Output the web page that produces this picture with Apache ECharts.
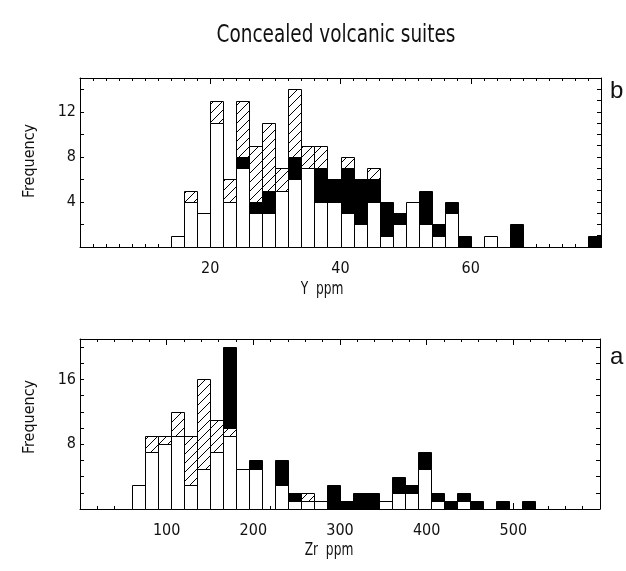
<!DOCTYPE html>
<html>
<head>
<meta charset="utf-8">
<script src="https://cdn.jsdelivr.net/npm/echarts@6/dist/echarts.min.js"></script>
<style>
  html, body { margin: 0; padding: 0; background: #fff; }
  #chart { width: 626px; height: 571px; }
</style>
</head>
<body>
<div id="chart"></div>
<script>
// ---- Y (ppm): counts per 2 ppm bin, bins start at 0, 2, 4, ... 78 ----
const yBinWidth = 2;
const yOpen  = [0,0,0,0,0,0,0, 1,4,3,11,4,7,3,3,5,6,7,4,4,3,2,4,1,2,4,2,1,3,0,0,1, 0,0,0,0,0,0,0,0];
const yBlack = [0,0,0,0,0,0,0,0,0,0,0,0, 1,1,2,0,2,0,3,2,4,4,2,3,1,0,3,1,1,1,0,0,0,2, 0,0,0,0,0, 1];
const yHatch = [0,0,0,0,0,0,0,0, 1,0,2,2,5,5,6,2,6,2,2,0,1,0,1, 0,0,0,0,0,0,0,0,0,0,0,0,0,0,0,0,0];

// ---- Zr (ppm): counts per 15 ppm bin, bins start at 0, 15, 30, ... 585 ----
const zrBinWidth = 15;
const zrOpen  = [0,0,0,0, 3,7,8,9,3,5,7,9,5,5,0,3,1,1,1,0,0,0,0,1,2,2,5,1,0,1, 0,0,0,0,0,0,0,0,0,0];
const zrHatch = [0,0,0,0,0, 2,1,3,6,11,4,1, 0,0,0,0,0, 1, 0,0,0,0,0,0,0,0,0,0,0,0,0,0,0,0,0,0,0,0,0,0];
const zrBlack = [0,0,0,0,0,0,0,0,0,0,0, 10,0,1,0,3,1,0,0,3,1,2,2,0,2,1,2,1,1,1,1,0,1,0,1, 0,0,0,0,0];

// ---- tick labels ----
const yPpmTicks = [20, 40, 60];
const yFreqTicks = [4, 8, 12];
const zrPpmTicks = [100, 200, 300, 400, 500];
const zrFreqTicks = [8, 16];

const FONT = "'DejaVu Sans Condensed', 'Liberation Sans Narrow', sans-serif";
const INK = '#111';

// diagonal hatch tile
function makeHatch() {
  const s = 9;
  const c = document.createElement('canvas');
  c.width = s; c.height = s;
  const g = c.getContext('2d');
  g.fillStyle = '#fff';
  g.fillRect(0, 0, s, s);
  g.strokeStyle = '#000';
  g.lineWidth = 1;
  g.beginPath();
  g.moveTo(-1, s + 1); g.lineTo(s + 1, -1);
  g.moveTo(-1, 1); g.lineTo(1, -1);
  g.moveTo(s - 1, s + 1); g.lineTo(s + 1, s - 1);
  g.stroke();
  return { image: c, repeat: 'repeat' };
}
const hatchFill = makeHatch();

// stack count layers (bottom to top) into [x0, x1, y0, y1] rectangles
function stackLayers(binWidth, layers) {
  const base = new Array(layers[0].length).fill(0);
  return layers.map(counts => {
    const rows = [];
    counts.forEach((c, i) => {
      if (c > 0) {
        rows.push([i * binWidth, (i + 1) * binWidth, base[i], base[i] + c]);
        base[i] += c;
      }
    });
    return rows;
  });
}

function histSeries(rows, fill, panel) {
  return {
    type: 'custom',
    xAxisIndex: panel * 2,
    yAxisIndex: panel * 2,
    data: rows,
    encode: { x: [0, 1], y: [2, 3] },
    silent: true,
    animation: false,
    renderItem: function (params, api) {
      const a = api.coord([api.value(0), api.value(3)]);
      const b = api.coord([api.value(1), api.value(2)]);
      const x0 = Math.round(a[0]) + 0.5, x1 = Math.round(b[0]) + 0.5;
      const y0 = Math.round(a[1]) + 0.5, y1 = Math.round(b[1]) + 0.5;
      return {
        type: 'rect',
        shape: { x: x0, y: y0, width: x1 - x0, height: y1 - y0 },
        style: { fill: fill, stroke: '#000', lineWidth: 1 }
      };
    }
  };
}

// Y panel stacks: open, black, hatched; Zr panel stacks: open, hatched, black
const yRects = stackLayers(yBinWidth, [yOpen, yBlack, yHatch]);
const zrRects = stackLayers(zrBinWidth, [zrOpen, zrHatch, zrBlack]);

const lineStyle = { color: '#000', width: 1 };

function xAxisPair(grid, max, interval, minorSplit, labels) {
  const common = {
    type: 'value', gridIndex: grid, min: 0, max: max, interval: interval,
    axisLine: { show: true, onZero: false, lineStyle: lineStyle },
    axisTick: { show: true, inside: true, length: 6, lineStyle: lineStyle },
    minorTick: { show: true, splitNumber: minorSplit, length: 3, lineStyle: lineStyle },
    splitLine: { show: false }, minorSplitLine: { show: false }
  };
  return [
    Object.assign({}, common, {
      position: 'bottom',
      axisLabel: { show: true, customValues: labels, margin: 14, color: INK, fontFamily: FONT, fontSize: 16 }
    }),
    Object.assign({}, common, {
      position: 'top',
      axisLabel: { show: false }
    })
  ];
}

function yAxisPair(grid, max, leftInterval, rightInterval, labels) {
  return [
    {
      type: 'value', gridIndex: grid, position: 'left', min: 0, max: max, interval: leftInterval,
      axisLine: { show: true, onZero: false, lineStyle: lineStyle },
      axisTick: { show: true, inside: true, length: 4, lineStyle: lineStyle },
      axisLabel: { show: true, customValues: labels, margin: 4, color: INK, fontFamily: FONT, fontSize: 16 },
      splitLine: { show: false }
    },
    {
      type: 'value', gridIndex: grid, position: 'right', min: 0, max: max, interval: rightInterval,
      axisLine: { show: true, onZero: false, lineStyle: lineStyle },
      axisTick: { show: true, inside: true, length: 4, lineStyle: lineStyle },
      axisLabel: { show: false },
      splitLine: { show: false }
    }
  ];
}

const chart = echarts.init(document.getElementById('chart'), null, { renderer: 'canvas' });

chart.setOption({
  backgroundColor: '#fff',
  animation: false,
  grid: [
    { left: 80, top: 78, width: 521, height: 169 },
    { left: 80, top: 339, width: 520, height: 170 }
  ],
  xAxis: [].concat(
    xAxisPair(0, 80, 20, 10, yPpmTicks),
    xAxisPair(1, 600, 100, 5, zrPpmTicks)
  ),
  yAxis: [].concat(
    yAxisPair(0, 15, 2, 1, yFreqTicks),
    yAxisPair(1, 21, 2, 2, zrFreqTicks)
  ),
  graphic: [
    { type: 'text', x: 336, y: 35, scaleX: 0.82, style: { text: 'Concealed volcanic suites', fill: INK, font: "25px " + FONT, textAlign: 'center', textVerticalAlign: 'middle' } },
    { type: 'text', x: 322, y: 290, scaleX: 0.8, style: { text: 'Y  ppm', fill: INK, font: "17px " + FONT, textAlign: 'center', textVerticalAlign: 'middle' } },
    { type: 'text', x: 329, y: 551, scaleX: 0.8, style: { text: 'Zr  ppm', fill: INK, font: "17px " + FONT, textAlign: 'center', textVerticalAlign: 'middle' } },
    { type: 'text', x: 30, y: 161, rotation: Math.PI / 2, style: { text: 'Frequency', fill: INK, font: "16px " + FONT, textAlign: 'center', textVerticalAlign: 'middle' } },
    { type: 'text', x: 30, y: 417, rotation: Math.PI / 2, style: { text: 'Frequency', fill: INK, font: "16px " + FONT, textAlign: 'center', textVerticalAlign: 'middle' } },
    { type: 'text', x: 610, y: 91, style: { text: 'b', fill: INK, font: "24px 'Liberation Sans', Arial, sans-serif", textAlign: 'left', textVerticalAlign: 'middle' } },
    { type: 'text', x: 610, y: 357, style: { text: 'a', fill: INK, font: "24px 'Liberation Sans', Arial, sans-serif", textAlign: 'left', textVerticalAlign: 'middle' } }
  ],
  series: [
    histSeries(yRects[0], '#fff', 0),
    histSeries(yRects[1], '#000', 0),
    histSeries(yRects[2], hatchFill, 0),
    histSeries(zrRects[0], '#fff', 1),
    histSeries(zrRects[1], hatchFill, 1),
    histSeries(zrRects[2], '#000', 1)
  ]
});
</script>
</body>
</html>
